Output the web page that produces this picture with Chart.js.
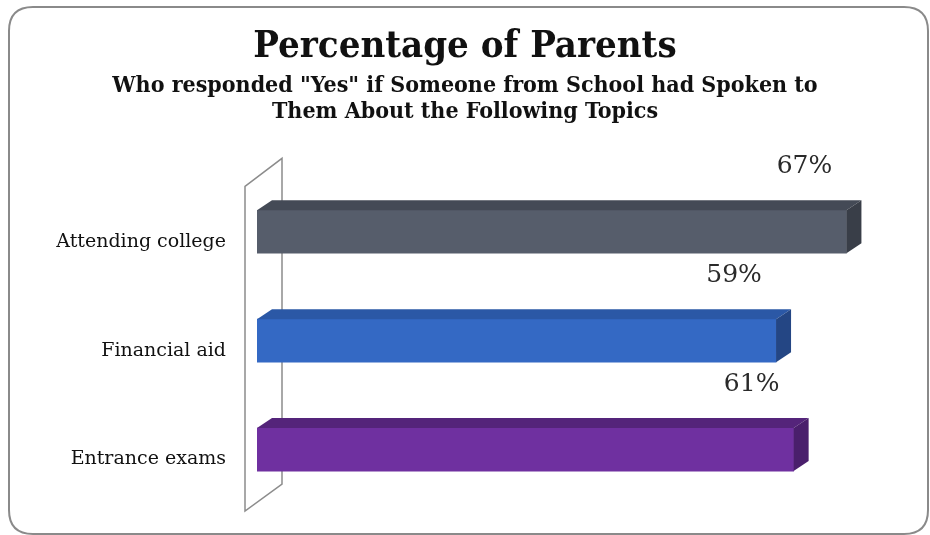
<!DOCTYPE html>
<html>
<head>
<meta charset="utf-8">
<script src="https://cdn.jsdelivr.net/npm/chart.js@4.4.1/dist/chart.umd.min.js"></script>
<style>
  html, body { margin: 0; padding: 0; background: #fff; }
  #wrap { width: 930px; height: 535px; }
</style>
</head>
<body>
<div id="wrap"><canvas id="myChart" width="930" height="535"></canvas></div>
<script>
// chart data
const categories = ["Attending college", "Financial aid", "Entrance exams"];
const percentYes = [67, 59, 61];

const frontColors = ["#565d6b", "#3469c4", "#6f30a0"];
const topColors = ["#444a56", "#2b58a6", "#54247a"];
const sideColors = ["#393e48", "#244684", "#4a1f6c"];

const DEPTH_X = 15;
const DEPTH_Y = 10;

// rounded frame around the whole picture
const framePlugin = {
  id: "frame",
  beforeDraw(chart) {
    const ctx = chart.ctx;
    const x = 9, y = 7, w = 919, h = 527, r = 24;
    ctx.save();
    ctx.beginPath();
    ctx.moveTo(x + r, y);
    ctx.lineTo(x + w - r, y);
    ctx.quadraticCurveTo(x + w, y, x + w, y + r);
    ctx.lineTo(x + w, y + h - r);
    ctx.quadraticCurveTo(x + w, y + h, x + w - r, y + h);
    ctx.lineTo(x + r, y + h);
    ctx.quadraticCurveTo(x, y + h, x, y + h - r);
    ctx.lineTo(x, y + r);
    ctx.quadraticCurveTo(x, y, x + r, y);
    ctx.closePath();
    ctx.lineWidth = 2;
    ctx.strokeStyle = "#8a8a8a";
    ctx.stroke();
    ctx.restore();
  },
};

// the thin 3d "wall" behind the bars
const wallPlugin = {
  id: "wall",
  beforeDatasetsDraw(chart) {
    const { ctx, chartArea } = chart;
    const { left, top, bottom } = chartArea;
    ctx.save();
    ctx.beginPath();
    ctx.moveTo(left - 12, top + 9);
    ctx.lineTo(left + 25, top - 19);
    ctx.lineTo(left + 25, bottom - 20);
    ctx.lineTo(left - 12, bottom + 7);
    ctx.closePath();
    ctx.lineWidth = 1.5;
    ctx.strokeStyle = "#8c8c8c";
    ctx.stroke();
    ctx.restore();
  },
};

// top + side faces of each bar, then the value labels
const bar3dPlugin = {
  id: "bar3d",
  afterDatasetsDraw(chart) {
    const ctx = chart.ctx;
    const meta = chart.getDatasetMeta(0);
    ctx.save();
    meta.data.forEach((bar, i) => {
      const { x, y, base, height } = bar.getProps(["x", "y", "base", "height"], true);
      const t = y - height / 2;
      const b = y + height / 2;

      ctx.beginPath();
      ctx.moveTo(base, t);
      ctx.lineTo(base + DEPTH_X, t - DEPTH_Y);
      ctx.lineTo(x + DEPTH_X, t - DEPTH_Y);
      ctx.lineTo(x, t);
      ctx.closePath();
      ctx.fillStyle = topColors[i];
      ctx.fill();

      ctx.beginPath();
      ctx.moveTo(x, t);
      ctx.lineTo(x + DEPTH_X, t - DEPTH_Y);
      ctx.lineTo(x + DEPTH_X, b - DEPTH_Y);
      ctx.lineTo(x, b);
      ctx.closePath();
      ctx.fillStyle = sideColors[i];
      ctx.fill();

      ctx.font = "25px 'DejaVu Serif'";
      ctx.fillStyle = "#2a2a2a";
      ctx.textAlign = "center";
      ctx.textBaseline = "middle";
      ctx.fillText(percentYes[i] + "%", x - 42, t - 44);
    });
    ctx.restore();
  },
};

const ctx = document.getElementById("myChart").getContext("2d");
const myChart = new Chart(ctx, {
  type: "bar",
  data: {
    labels: categories,
    datasets: [
      {
        data: percentYes,
        backgroundColor: frontColors,
        barThickness: 43,
        borderSkipped: false,
      },
    ],
  },
  options: {
    indexAxis: "y",
    responsive: false,
    animation: false,
    layout: {
      padding: { top: 10, right: 0, bottom: 31, left: 0 },
    },
    scales: {
      x: {
        display: false,
        min: 0,
        max: 76.5,
      },
      y: {
        grid: { display: false, drawTicks: false },
        border: { display: false },
        ticks: {
          color: "#111",
          padding: 31,
          labelOffset: 10,
          font: { family: "'DejaVu Serif'", size: 19 },
        },
        afterFit(scale) {
          scale.width = 257;
          scale.paddingTop = 0;
          scale.paddingBottom = 0;
        },
      },
    },
    plugins: {
      legend: { display: false },
      tooltip: { enabled: false },
      title: {
        display: true,
        text: "Percentage of Parents",
        color: "#111",
        padding: { top: 15, bottom: 0 },
        font: { family: "'DejaVu Serif Condensed'", size: 38, weight: "bold", lineHeight: 1.15 },
      },
      subtitle: {
        display: true,
        text: ["Who responded \"Yes\" if Someone from School had Spoken to", "Them About the Following Topics"],
        color: "#111",
        padding: { top: 5, bottom: 53 },
        font: { family: "'DejaVu Serif Condensed'", size: 23, weight: "bold", lineHeight: 1.1 },
      },
    },
  },
  plugins: [framePlugin, wallPlugin, bar3dPlugin],
});
</script>
</body>
</html>
